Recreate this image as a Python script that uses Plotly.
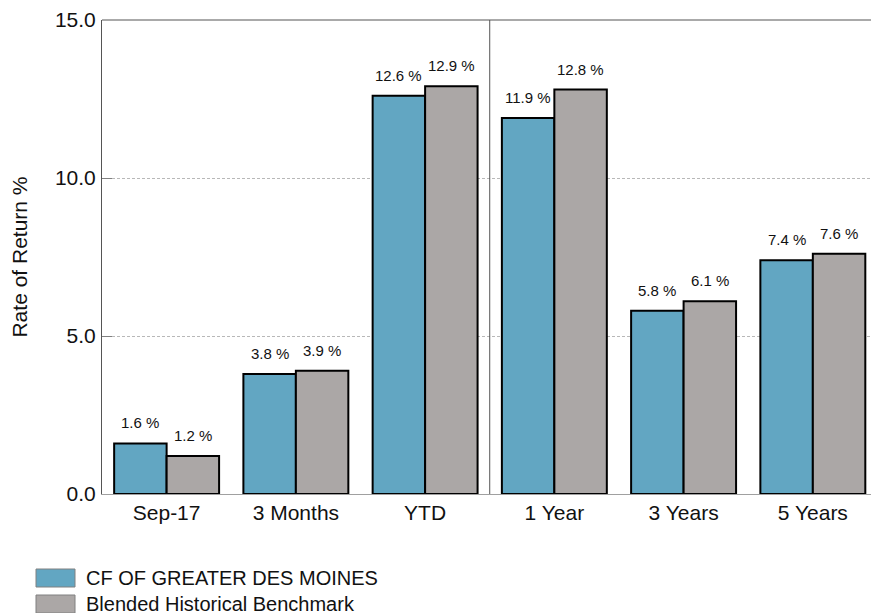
import plotly.graph_objects as go

categories = ["Sep-17", "3 Months", "YTD", "1 Year", "3 Years", "5 Years"]
fund_values = [1.6, 3.8, 12.6, 11.9, 5.8, 7.4]
bench_values = [1.2, 3.9, 12.9, 12.8, 6.1, 7.6]
series_names = ["CF OF GREATER DES MOINES", "Blended Historical Benchmark"]
y_ticks = [0, 5, 10, 15]
y_tick_text = ["0.0", "5.0", "10.0", "15.0"]

BLUE = "#62A6C2"
GRAY = "#ABA7A6"
FONT = "Liberation Sans, Arial, sans-serif"
BARGAP = 0.188

W, H = 871, 613
PLOT_L, PLOT_T, PLOT_B = 102, 20, 494
PW, PH = W - PLOT_L, PLOT_B - PLOT_T

fig = go.Figure()
for name, vals, col in [(series_names[0], fund_values, BLUE), (series_names[1], bench_values, GRAY)]:
    fig.add_trace(go.Bar(
        x=categories, y=vals, name=name,
        marker=dict(color=col, line=dict(color="#000000", width=2)),
        showlegend=False, hoverinfo="x+y",
    ))

off = (1 - BARGAP) / 4
annotations = []
for i, cat in enumerate(categories):
    for vals, sgn in [(fund_values, -1), (bench_values, 1)]:
        annotations.append(dict(
            x=i + sgn * off, y=vals[i], xref="x", yref="y",
            text=f"{vals[i]:.1f} %", showarrow=False,
            yanchor="bottom", yshift=10,
            font=dict(family=FONT, size=15, color="#111111"),
        ))

# custom legend (positions given in page pixels)
def px_x(x):
    return (x - PLOT_L) / PW

def px_y(y):
    return (PLOT_B - y) / PH

legend_rows = [(series_names[0], BLUE, 578), (series_names[1], GRAY, 604)]
shapes = []
for name, col, yc in legend_rows:
    shapes.append(dict(type="rect", xref="paper", yref="paper",
                       x0=px_x(36), x1=px_x(75), y0=px_y(yc - 9), y1=px_y(yc + 9),
                       fillcolor=col, line=dict(color="#808080", width=1)))
    annotations.append(dict(x=px_x(84), y=px_y(yc), xref="paper", yref="paper",
                            text=name, showarrow=False, xanchor="left", yanchor="middle",
                            font=dict(family=FONT, size=20, color="#111111")))

# top border and divider between YTD and 1 Year
shapes.append(dict(type="line", xref="paper", yref="paper", x0=0, x1=1, y0=1, y1=1,
                   line=dict(color="#555555", width=1)))
shapes.append(dict(type="line", xref="x", yref="paper", x0=2.5, x1=2.5, y0=0, y1=1,
                   line=dict(color="#555555", width=1)))

fig.update_layout(
    width=W, height=H,
    margin=dict(l=PLOT_L, r=0, t=PLOT_T, b=H - PLOT_B, autoexpand=False),
    paper_bgcolor="white", plot_bgcolor="white",
    barmode="group", bargap=BARGAP, bargroupgap=0,
    annotations=annotations, shapes=shapes,
    xaxis=dict(
        type="category", range=[-0.5, 5.45],
        showline=True, linecolor="#A0A0A0", linewidth=1,
        showgrid=False, ticks="", ticklabelstandoff=0,
        tickfont=dict(family=FONT, size=21, color="#111111"),
    ),
    yaxis=dict(
        range=[0, 15], tickvals=y_ticks, ticktext=y_tick_text,
        showline=True, linecolor="#555555", linewidth=1,
        showgrid=True, gridcolor="#B8B8B8", griddash="3px,2px", gridwidth=1,
        zeroline=False,
        ticks="inside", ticklen=10, tickcolor="#808080",
        ticklabelstandoff=1,
        tickfont=dict(family=FONT, size=21, color="#111111"),
        title=dict(text="Rate of Return %", standoff=21,
                   font=dict(family=FONT, size=21, color="#111111")),
    ),
)

fig.write_html(
    "out.html",
    config={"displayModeBar": False},
    post_script="document.body.style.margin='0';document.body.style.overflow='hidden';",
)
